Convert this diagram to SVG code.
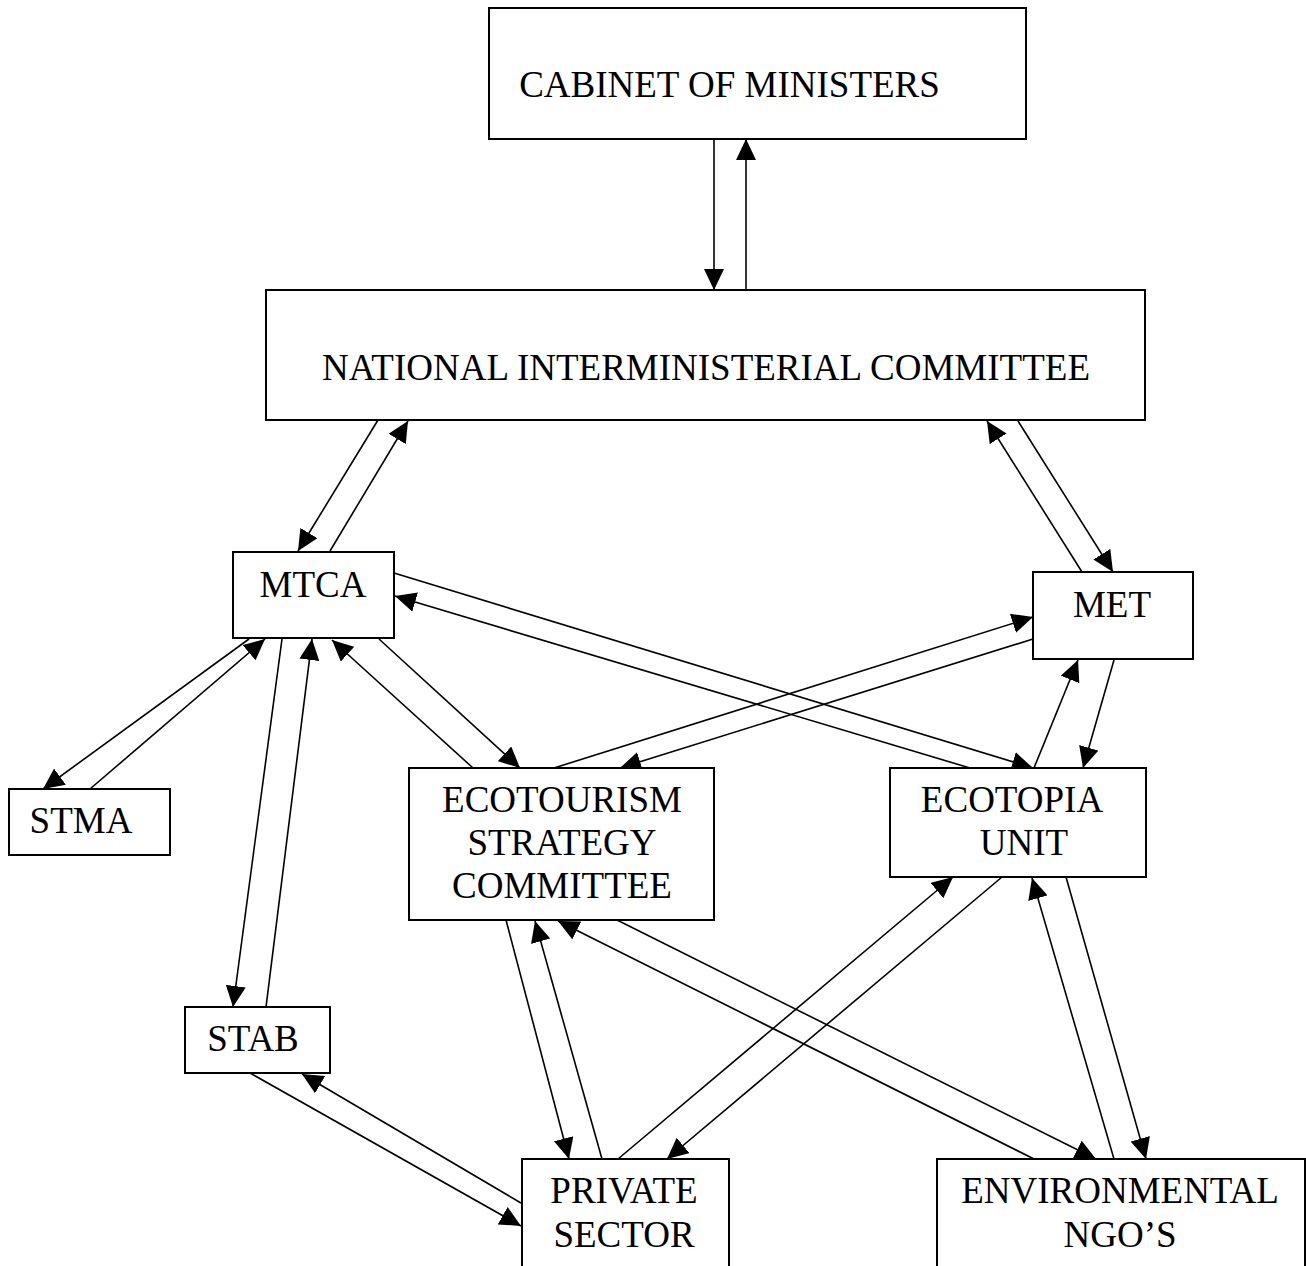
<svg xmlns="http://www.w3.org/2000/svg" width="1306" height="1266" viewBox="0 0 1306 1266">
<style>
.box{fill:#fff;stroke:#000;stroke-width:2}
.t{font-family:"Liberation Serif","Times New Roman",serif;font-size:37px;fill:#000;text-anchor:middle}
.c{stroke:#000;stroke-width:1.6;fill:none;marker-end:url(#ah)}
</style>
<defs>
<marker id="ah" markerUnits="userSpaceOnUse" viewBox="0 0 21 20" refX="21" refY="10" markerWidth="21" markerHeight="20" orient="auto">
<path d="M0,0 L21,10 L0,20 z" fill="#000"/>
</marker>
</defs>
<rect width="1306" height="1266" fill="#fff"/>
<g id="connectors">
<line class="c" x1="714" y1="139" x2="714" y2="290"/>
<line class="c" x1="746" y1="290" x2="746" y2="139"/>
<line class="c" x1="378" y1="420" x2="298" y2="551"/>
<line class="c" x1="330" y1="551" x2="408" y2="421"/>
<line class="c" x1="1018" y1="421" x2="1113" y2="572"/>
<line class="c" x1="1082" y1="572" x2="987" y2="421"/>
<line class="c" x1="394" y1="573" x2="1033" y2="768"/>
<line class="c" x1="970" y1="768" x2="395" y2="596"/>
<line class="c" x1="379" y1="639" x2="520" y2="768"/>
<line class="c" x1="473" y1="768" x2="332" y2="640"/>
<line class="c" x1="554" y1="768" x2="1033" y2="617"/>
<line class="c" x1="1033" y1="639" x2="620" y2="768"/>
<line class="c" x1="1114" y1="660" x2="1083" y2="768"/>
<line class="c" x1="1034" y1="768" x2="1078" y2="660"/>
<line class="c" x1="249" y1="639" x2="43" y2="789"/>
<line class="c" x1="90" y1="789" x2="265" y2="639"/>
<line class="c" x1="282" y1="639" x2="233" y2="1007"/>
<line class="c" x1="266" y1="1007" x2="312" y2="639"/>
<line class="c" x1="250" y1="1073" x2="521" y2="1226"/>
<line class="c" x1="521" y1="1203" x2="302" y2="1074"/>
<line class="c" x1="506" y1="920" x2="569" y2="1159"/>
<line class="c" x1="602" y1="1159" x2="535" y2="921"/>
<line class="c" x1="617" y1="920" x2="1096" y2="1159"/>
<line class="c" x1="1034" y1="1159" x2="558" y2="921"/>
<line class="c" x1="618" y1="1159" x2="953" y2="877"/>
<line class="c" x1="1002" y1="877" x2="667" y2="1159"/>
<line class="c" x1="1066" y1="877" x2="1146" y2="1159"/>
<line class="c" x1="1114" y1="1159" x2="1032" y2="878"/>
</g>
<g id="cabinet"><rect class="box" x="489" y="8" width="537" height="131"/><text class="t" x="729.5" y="97">CABINET OF MINISTERS</text></g>
<g id="nic"><rect class="box" x="266" y="290" width="879" height="130"/><text class="t" x="706" y="380">NATIONAL INTERMINISTERIAL COMMITTEE</text></g>
<g id="mtca"><rect class="box" x="233" y="552" width="161" height="86"/><text class="t" x="313" y="597">MTCA</text></g>
<g id="met"><rect class="box" x="1033" y="572" width="160" height="87"/><text class="t" x="1112" y="617">MET</text></g>
<g id="stma"><rect class="box" x="9" y="789" width="161" height="66"/><text class="t" x="81" y="833">STMA</text></g>
<g id="esc"><rect class="box" x="409" y="768" width="305" height="152"/><text class="t" x="562" y="812">ECOTOURISM</text><text class="t" x="562" y="855">STRATEGY</text><text class="t" x="562" y="898">COMMITTEE</text></g>
<g id="ecotopia"><rect class="box" x="890" y="768" width="256" height="109"/><text class="t" x="1012" y="812">ECOTOPIA</text><text class="t" x="1024" y="855">UNIT</text></g>
<g id="stab"><rect class="box" x="185" y="1007" width="145" height="66"/><text class="t" x="253" y="1051">STAB</text></g>
<g id="private"><rect class="box" x="522" y="1159" width="207" height="120"/><text class="t" x="624" y="1203">PRIVATE</text><text class="t" x="624" y="1247">SECTOR</text></g>
<g id="ngo"><rect class="box" x="937" y="1159" width="368" height="120"/><text class="t" x="1120" y="1203">ENVIRONMENTAL</text><text class="t" x="1120" y="1247">NGO’S</text></g>
</svg>
